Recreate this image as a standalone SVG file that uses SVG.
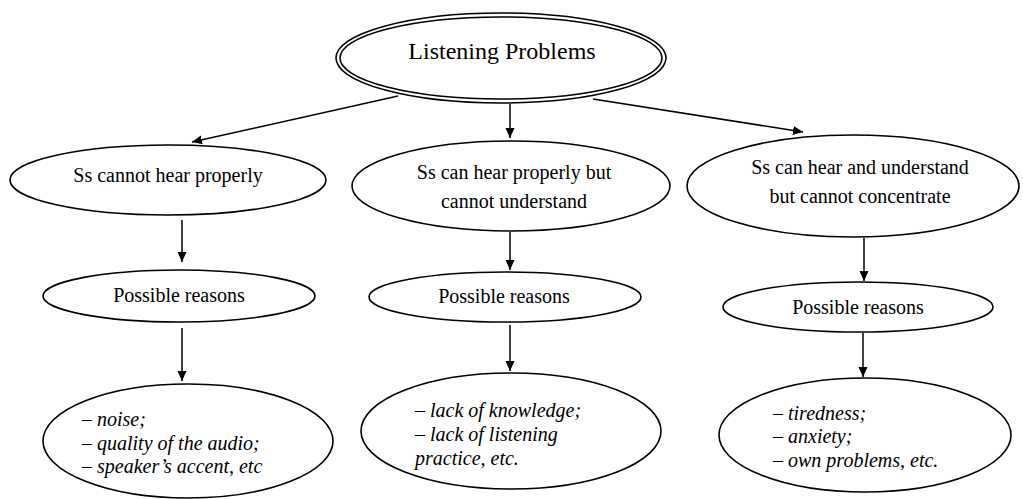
<svg xmlns="http://www.w3.org/2000/svg" width="1023" height="499" viewBox="0 0 1023 499">
<style>
.n{fill:#fff;stroke:#000;stroke-width:1.6}
.t{font-family:'Liberation Serif','Times New Roman',serif;font-size:20px;fill:#000}
.c{text-anchor:middle}
.i{font-style:italic}
.e{stroke:#000;stroke-width:1.5;fill:none;marker-end:url(#ah)}
</style>
<defs>
<marker id="ah" viewBox="0 0 10 10" refX="10" refY="5" markerWidth="10" markerHeight="10" markerUnits="userSpaceOnUse" orient="auto">
<path d="M0,0.5 L10,5 L0,9.5 Z" fill="#000"/>
</marker>
</defs>
<rect width="1023" height="499" fill="#fff"/>
<g id="connectors">
<line class="e" x1="398" y1="96" x2="192" y2="142"/>
<line class="e" x1="510" y1="104" x2="510" y2="138"/>
<line class="e" x1="593" y1="99" x2="803" y2="132"/>
<line class="e" x1="182" y1="220" x2="182" y2="262"/>
<line class="e" x1="510" y1="232" x2="510" y2="270"/>
<line class="e" x1="864" y1="238" x2="864" y2="281"/>
<line class="e" x1="182" y1="328" x2="182" y2="381"/>
<line class="e" x1="510" y1="325" x2="510" y2="371"/>
<line class="e" x1="863" y1="333" x2="863" y2="377"/>
</g>
<g id="root">
<ellipse class="n" cx="501" cy="58" rx="165" ry="45" stroke-width="2"/>
<ellipse class="n" cx="501" cy="58" rx="161" ry="41" stroke-width="1.3"/>
<text class="t c" x="502" y="59" style="font-size:24px">Listening Problems</text>
</g>
<g id="p1">
<ellipse class="n" cx="168" cy="180" rx="158" ry="35"/>
<text class="t c" x="168" y="182">Ss cannot hear properly</text>
</g>
<g id="p2">
<ellipse class="n" cx="511" cy="186" rx="159" ry="45"/>
<text class="t c" x="514" y="179">Ss can hear properly but</text>
<text class="t c" x="514" y="208">cannot understand</text>
</g>
<g id="p3">
<ellipse class="n" cx="853" cy="186" rx="166" ry="51"/>
<text class="t c" x="860" y="174">Ss can hear and understand</text>
<text class="t c" x="860" y="203">but cannot concentrate</text>
</g>
<g id="r1">
<ellipse class="n" cx="179" cy="296" rx="136" ry="26"/>
<text class="t c" x="179" y="302">Possible reasons</text>
</g>
<g id="r2">
<ellipse class="n" cx="505" cy="297" rx="136" ry="25"/>
<text class="t c" x="504" y="303">Possible reasons</text>
</g>
<g id="r3">
<ellipse class="n" cx="858" cy="307" rx="135" ry="25"/>
<text class="t c" x="858" y="314">Possible reasons</text>
</g>
<g id="d1">
<ellipse class="n" cx="188" cy="441" rx="145" ry="57"/>
<text class="t i" x="82" y="426">– noise;</text>
<text class="t i" x="82" y="450">– quality of the audio;</text>
<text class="t i" x="82" y="473">– speaker’s accent, etc</text>
</g>
<g id="d2">
<ellipse class="n" cx="511" cy="431" rx="150" ry="58"/>
<text class="t i" x="415" y="417">– lack of knowledge;</text>
<text class="t i" x="415" y="441">– lack of listening</text>
<text class="t i" x="415" y="465">practice, etc.</text>
</g>
<g id="d3">
<ellipse class="n" cx="865" cy="435" rx="146" ry="57"/>
<text class="t i" x="773" y="420">– tiredness;</text>
<text class="t i" x="773" y="443">– anxiety;</text>
<text class="t i" x="773" y="467">– own problems, etc.</text>
</g>
</svg>
